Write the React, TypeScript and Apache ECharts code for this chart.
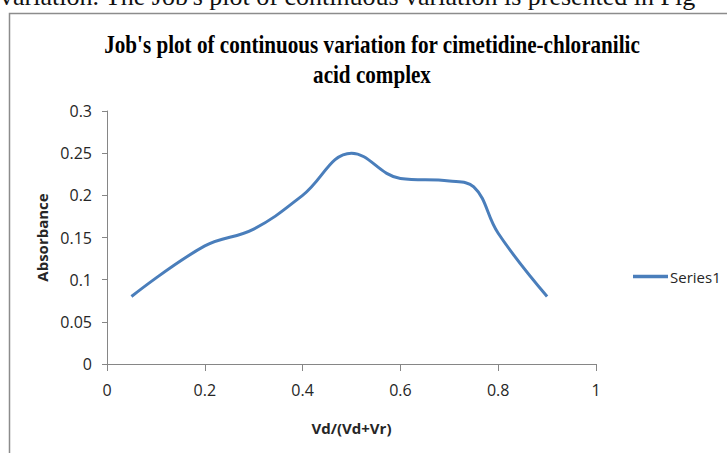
import React, { useEffect, useRef } from "react";
import * as echarts from "echarts";

const titleLines = ["Job's plot of continuous variation for cimetidine-chloranilic", "acid complex"];
const topText = "variation. The Job's plot of continuous variation is presented in Fig";
const seriesName = "Series1";
const xName = "Vd/(Vd+Vr)";
const yName = "Absorbance";
const xValues = [0.05, 0.2, 0.3, 0.4, 0.5, 0.6, 0.7, 0.75, 0.8, 0.9];
const absorbance = [0.08, 0.14, 0.16, 0.2, 0.25, 0.22, 0.217, 0.21, 0.155, 0.08];

export default function App() {
  const ref = useRef<HTMLDivElement>(null);
  useEffect(() => {
    if (!ref.current) return;
    const chart = echarts.init(ref.current, undefined, { renderer: "svg" });
    const axisColor = "#868686";
    const labelColor = "#262626";
    const sans = "'Open Sans', 'Liberation Sans', sans-serif";
    chart.setOption({
      animation: false,
      backgroundColor: "#ffffff",
      grid: { left: 107, right: 131, top: 111, bottom: 89, containLabel: false },
      graphic: [
        {
          type: "rect",
          shape: { x: 9.5, y: 13.5, width: 900, height: 600 },
          style: { fill: "none", stroke: "#8c8c8c", lineWidth: 1.5 },
          silent: true,
        },
        {
          type: "text",
          x: 0,
          y: 9,
          style: {
            text: topText,
            font: "26px 'Liberation Serif', serif",
            fill: "#111",
            textAlign: "left",
            textVerticalAlign: "bottom",
          },
          silent: true,
        },
        ...titleLines.map((t, i) => ({
          type: "text",
          x: 372,
          y: 44 + i * 30,
          scaleX: 0.845,
          style: {
            text: t,
            font: "bold 25px 'Liberation Serif', serif",
            fill: "#000",
            textAlign: "center",
            textVerticalAlign: "middle",
          },
          silent: true,
        })),
      ],
      legend: {
        left: 628,
        top: 264,
        data: [{ name: seriesName, icon: "rect" }],
        itemWidth: 35,
        itemHeight: 3.5,
        itemGap: 4,
        textStyle: { fontFamily: sans, fontSize: 15, color: labelColor, padding: [0, 0, 0, -3] },
      },
      xAxis: {
        type: "value",
        min: 0,
        max: 1,
        interval: 0.2,
        name: xName,
        nameLocation: "middle",
        nameGap: 56,
        nameTextStyle: { fontFamily: sans, fontSize: 15, fontWeight: "bold", color: labelColor },
        axisLine: { lineStyle: { color: axisColor, width: 1 } },
        axisTick: { show: true, length: 7, lineStyle: { color: axisColor } },
        axisLabel: { margin: 18, fontFamily: sans, fontSize: 16, color: labelColor },
        splitLine: { show: false },
      },
      yAxis: {
        type: "value",
        min: 0,
        max: 0.3,
        interval: 0.05,
        name: yName,
        nameLocation: "middle",
        nameGap: 55,
        nameRotate: 90,
        nameTextStyle: { fontFamily: sans, fontSize: 15, fontWeight: "bold", color: labelColor },
        axisLine: { show: true, lineStyle: { color: axisColor, width: 1 } },
        axisTick: { show: true, length: 5, lineStyle: { color: axisColor } },
        axisLabel: { margin: 15, fontFamily: sans, fontSize: 16, color: labelColor },
        splitLine: { show: false },
      },
      series: [
        {
          name: seriesName,
          type: "line",
          data: xValues.map((x, i) => [x, absorbance[i]]),
          smooth: 0.4,
          symbol: "none",
          lineStyle: { color: "#4a7ebb", width: 3 },
          itemStyle: { color: "#4a7ebb" },
        },
      ],
    });
    return () => chart.dispose();
  }, []);
  return (
    <div
      ref={ref}
      style={{ position: "absolute", left: 0, top: 0, width: 727, height: 453 }}
    />
  );
}
